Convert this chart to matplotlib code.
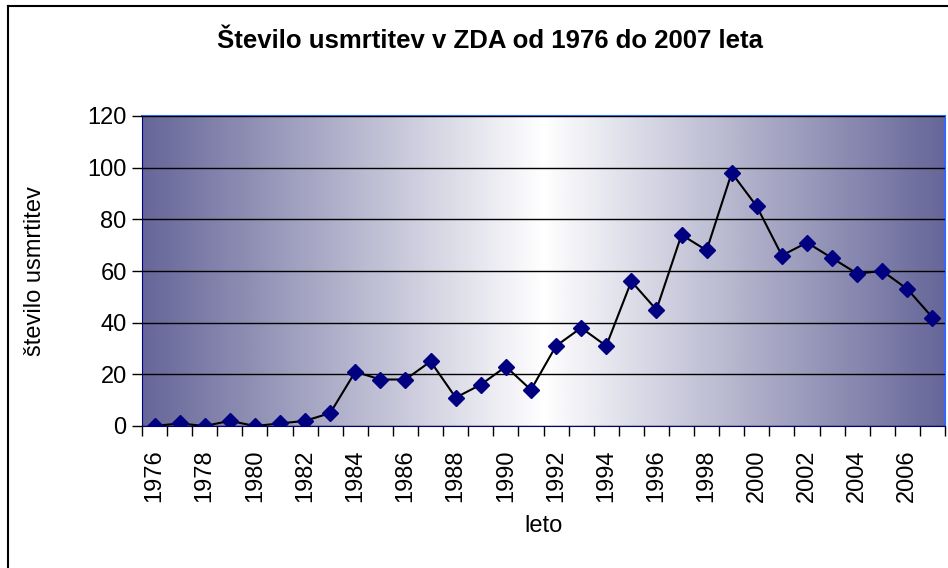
import numpy as np
import matplotlib.pyplot as plt
from matplotlib.colors import LinearSegmentedColormap
from matplotlib.lines import Line2D

plt.rcParams['font.family'] = ['Liberation Sans', 'DejaVu Sans']

leta = list(range(1976, 2008))
usmrtitve = [0, 1, 0, 2, 0, 1, 2, 5, 21, 18, 18, 25, 11, 16, 23, 14,
             31, 38, 31, 56, 45, 74, 68, 98, 85, 66, 71, 65, 59, 60, 53, 42]
y_ticks = [0, 20, 40, 60, 80, 100, 120]

fig = plt.figure(figsize=(9.48, 5.68), dpi=100)
ax = fig.add_axes([142 / 948, 1 - 426 / 568, (945 - 142) / 948, (426 - 116) / 568])

n = len(leta)
x = np.arange(n)

# ozadje: vodoravni preliv temno-belo-temno
cmap = LinearSegmentedColormap.from_list('preliv', ['#666699', '#ffffff', '#666699'])
grad = np.linspace(0, 1, 512).reshape(1, -1)
ax.imshow(grad, aspect='auto', cmap=cmap, extent=[-0.5, n - 0.5, 0, 120], zorder=0)

ax.set_xlim(-0.5, n - 0.5)
ax.set_ylim(0, 120)
ax.set_yticks(y_ticks)
ax.yaxis.grid(True, color='black', linewidth=1)
ax.set_axisbelow(False)
for gl in ax.get_ygridlines():
    gl.set_zorder(1)

ax.plot(x, usmrtitve, color='black', linewidth=1.5, marker='D', markersize=8,
        markerfacecolor='#000080', markeredgecolor='#000080', zorder=3)

# kljukice med kategorijami, oznake vsako drugo leto
ax.set_xticks(np.arange(n + 1) - 0.5, minor=False)
ax.set_xticklabels([])
ax.set_xticks(x[::2], minor=True)
ax.set_xticklabels([str(l) for l in leta[::2]], minor=True, rotation=90, fontsize=17)
ax.tick_params(axis='x', which='major', length=7, width=1, direction='out')
ax.tick_params(axis='x', which='minor', length=0, pad=17)
ax.tick_params(axis='y', length=7, width=1, direction='out', labelsize=17, pad=4)

for s in ['top', 'right']:
    ax.spines[s].set_color('#3366ff')
    ax.spines[s].set_linewidth(1.5)
ax.spines['left'].set_color('#000080')
ax.spines['bottom'].set_color('#000080')

fig.text(543 / 948, 1 - 526 / 568, 'leto', fontsize=17, ha='center', va='center')
fig.text(35 / 948, 1 - 271 / 568, 'število usmrtitev', fontsize=17,
         rotation=90, ha='center', va='center')
fig.text(490 / 948, 1 - 41 / 568, 'Število usmrtitev v ZDA od 1976 do 2007 leta',
         fontsize=18.5, fontweight='bold', ha='center', va='center')

# okvir grafikona (levo in zgoraj)
fig.add_artist(Line2D([8 / 948, 8 / 948], [0, 1 - 6 / 568], color='black', linewidth=1.5))
fig.add_artist(Line2D([8 / 948, 1], [1 - 6 / 568, 1 - 6 / 568], color='black', linewidth=1.5))

fig.savefig('out.png', dpi=100)
